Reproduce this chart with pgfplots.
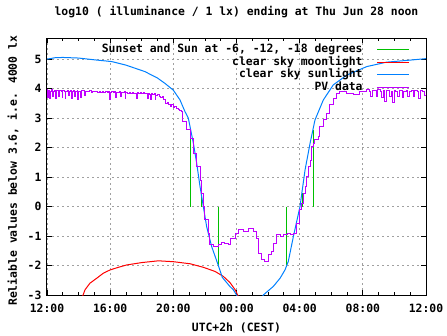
\documentclass[border=0pt]{standalone}
\usepackage{fontspec}
\setmainfont{DejaVu Sans Mono}
\usepackage{pgfplots}
\pgfplotsset{compat=1.18}
\definecolor{gpgreen}{HTML}{00C000}
\definecolor{gpred}{HTML}{FF0000}
\definecolor{gpblue}{HTML}{0080FF}
\definecolor{gppurple}{HTML}{C000FF}
\definecolor{gpgrid}{HTML}{A0A0A0}
\begin{document}
\begin{tikzpicture}[font=\bfseries\fontsize{11.4}{12.6}\selectfont]
\begin{axis}[
  scale only axis, width=379pt, height=256.7pt,
  at={(0,0)}, anchor=south west,
  xmin=0, xmax=24, ymin=-3, ymax=5.71,
  xtick={0,4,...,24}, xticklabels={12:00,16:00,20:00,00:00,04:00,08:00,12:00},
  minor x tick num=3,
  ytick={-3,-2,...,5}, yticklabels={-3,-2,-1,0,1,2,3,4,5},
  xticklabel style={yshift=-6pt},
  yticklabel style={xshift=-2pt},
  grid=major, major grid style={gpgrid, dash pattern=on 2pt off 3pt, line width=0.8pt},
  tick align=inside, major tick length=5pt, minor tick length=3pt,
  every tick/.style={black, line width=0.8pt},
  axis line style={line width=1pt},
  title={log10 ( illuminance / 1 lx) ending at Thu Jun 28 noon},
  title style={at={(0.5,1.078)}, anchor=center},
  xlabel={UTC+2h (CEST)},
  xlabel style={at={(0.5,-0.13)}, anchor=center},
  ylabel={Reliable values below 3.6, i.e. 4000 lx},
  ylabel style={at={(-0.0897,0.484)}, anchor=center},
  legend plot pos=right, legend cell align=right,
  legend style={at={(0.966,0.988)}, anchor=north east, draw=none, fill=none,
    nodes={inner sep=0pt, text height=9pt, text depth=3pt}, row sep=0.6pt,
    /tikz/every odd column/.append style={column sep=14pt}},
  legend image code/.code={\draw[#1] (0pt,0pt) -- (32pt,0pt);},
  unbounded coords=jump,
]
% Sunset and Sun at -6, -12, -18 degrees
\addplot[gpgreen, line width=1.3pt] coordinates {
 (9.075,0) (9.075,2.6) (9.075,nan)
 (9.80,0) (9.80,0.47) (9.80,nan)
 (10.85,0) (10.85,-2.03) (10.85,nan)
 (15.18,0) (15.18,-1.98) (15.18,nan)
 (16.17,0) (16.17,0.45) (16.17,nan)
 (16.86,0) (16.86,2.6)
};
\addlegendentry{Sunset and Sun at -6, -12, -18 degrees}
% clear sky moonlight
\addplot[gpred, line width=1pt] coordinates {
 (2.25,-3.05) (2.41,-2.82) (2.72,-2.60) (3.15,-2.43) (3.57,-2.26) (3.99,-2.15)
 (4.52,-2.06) (5.05,-1.98) (6.0,-1.90) (7.05,-1.84) (8.0,-1.87) (9.06,-1.94)
 (9.9,-2.06) (10.64,-2.20) (11.17,-2.37) (11.59,-2.58) (11.91,-2.82) (12.12,-3.05)
};
\addlegendentry{clear sky moonlight}
% clear sky sunlight
\addplot[gpblue, line width=1pt] coordinates {
 (0,5.00) (0.5,5.05) (1.0,5.06) (2,5.04) (3,4.98) (4.1,4.92) (5,4.80) (6.2,4.58)
 (7,4.36) (7.47,4.18) (8,3.95) (8.42,3.62) (8.74,3.22) (8.95,3.0) (9.27,2.15)
 (9.48,1.47) (9.69,0.68) (9.9,0.0) (10.11,-0.68) (10.43,-1.36) (10.85,-2.0)
 (11.1,-2.40) (11.58,-2.71) (11.8,-2.82) (12.0,-3.0) (12.4,-3.4) (13.3,-3.4)
 (13.7,-3.0) (14.0,-2.86) (14.33,-2.71) (14.76,-2.43) (15.07,-2.15) (15.28,-1.86)
 (15.6,-1.02) (16.02,0.0) (16.34,1.24) (16.66,2.15) (16.97,2.94) (17.5,3.62)
 (18.13,4.13) (18.98,4.46) (20.25,4.75) (21.5,4.90) (23.0,4.97) (24,5.02)
};
\addlegendentry{clear sky sunlight}
% PV data
\addplot[gppurple, line width=1pt, const plot] coordinates {
 (0.00,3.98) (0.05,3.70) (0.10,3.95) (0.15,3.66) (0.20,3.92) (0.30,3.97) (0.35,3.72)
 (0.40,3.90) (0.50,3.94) (0.55,3.68) (0.60,3.93) (0.70,3.90) (0.75,3.75) (0.80,3.95)
 (0.90,3.92) (0.95,3.70) (1.00,3.94) (1.10,3.90) (1.15,3.66) (1.20,3.92) (1.30,3.95)
 (1.35,3.78) (1.40,3.90) (1.50,3.93) (1.55,3.68) (1.60,3.91) (1.70,3.94) (1.75,3.72)
 (1.80,3.90) (1.90,3.95) (1.95,3.64) (2.00,3.92) (2.10,3.90) (2.15,3.70) (2.20,3.93)
 (2.35,3.91) (2.40,3.76) (2.45,3.92) (2.60,3.90) (2.70,3.93) (2.80,3.88) (2.90,3.91)
 (3.00,3.89) (3.10,3.92) (3.20,3.88) (3.30,3.90) (3.40,3.86) (3.50,3.90) (3.60,3.88)
 (3.70,3.91) (3.80,3.87) (3.90,3.90) (3.95,3.62) (4.00,3.88) (4.10,3.90) (4.20,3.86)
 (4.30,3.89) (4.35,3.70) (4.40,3.88) (4.50,3.87) (4.60,3.90) (4.65,3.74) (4.70,3.88)
 (4.80,3.86) (4.90,3.89) (4.95,3.68) (5.00,3.87) (5.10,3.85) (5.20,3.88) (5.30,3.84)
 (5.40,3.87) (5.50,3.85) (5.60,3.82) (5.65,3.66) (5.70,3.86) (5.80,3.84) (5.90,3.87)
 (6.00,3.83) (6.10,3.86) (6.20,3.82) (6.30,3.85) (6.35,3.66) (6.40,3.84) (6.50,3.80)
 (6.55,3.64) (6.60,3.83) (6.70,3.80) (6.80,3.82) (6.85,3.65) (6.90,3.78) (7.00,3.80)
 (7.10,3.72) (7.20,3.70) (7.30,3.73) (7.40,3.62) (7.50,3.50) (7.60,3.52) (7.70,3.45)
 (7.80,3.38) (7.90,3.45) (8.00,3.36) (8.10,3.40) (8.20,3.32) (8.30,3.30) (8.40,3.25)
 (8.50,3.22) (8.60,2.90) (8.85,2.60) (9.06,2.32) (9.27,1.81) (9.48,1.36) (9.69,0.90)
 (9.80,0.45) (9.90,0.00) (10.00,-0.45) (10.20,-0.90) (10.32,-1.30) (10.53,-1.36)
 (10.85,-1.30) (11.06,-1.22) (11.27,-1.26) (11.48,-1.30) (11.59,-1.07) (11.91,-0.90)
 (12.12,-0.79) (12.43,-0.85) (12.75,-0.73) (13.07,-0.85) (13.28,-1.07) (13.38,-1.58)
 (13.60,-1.81) (13.80,-1.86) (14.00,-1.64) (14.23,-1.53) (14.33,-1.24) (14.55,-0.96)
 (14.76,-1.02) (15.00,-0.96) (15.20,-0.90) (15.40,-0.96) (15.60,-0.90) (15.81,-0.56)
 (16.02,-0.11) (16.12,0.11) (16.23,0.45) (16.35,0.68) (16.45,1.02) (16.55,1.36)
 (16.66,1.58) (16.78,2.03) (16.87,2.15) (16.97,2.26) (17.18,2.37) (17.28,2.71)
 (17.50,2.97) (17.71,3.17) (17.92,3.48) (18.13,3.67) (18.34,3.84) (18.55,3.90)
 (18.98,3.84) (19.40,3.79) (19.82,3.90) (20.25,3.96) (20.40,3.92) (20.50,3.75)
 (20.60,3.95) (20.75,3.93) (20.85,3.72) (20.95,3.96) (21.10,3.92) (21.20,3.70)
 (21.30,3.94) (21.40,3.55) (21.50,3.93) (21.60,3.95) (21.70,3.74) (21.80,3.92)
 (21.90,3.52) (22.00,3.94) (22.10,3.90) (22.20,3.72) (22.30,3.93) (22.40,3.95)
 (22.50,3.70) (22.60,3.92) (22.75,3.94) (22.85,3.74) (22.95,3.92) (23.10,3.95)
 (23.20,3.72) (23.30,3.93) (23.45,3.90) (23.55,3.68) (23.65,3.94) (23.80,3.92)
 (23.90,3.76) (24.00,3.95)
};
\addlegendentry{PV data}
\end{axis}
\pgfresetboundingbox
\path[use as bounding box] (-47pt,-40pt) rectangle (400pt,295pt);
\end{tikzpicture}
\end{document}
